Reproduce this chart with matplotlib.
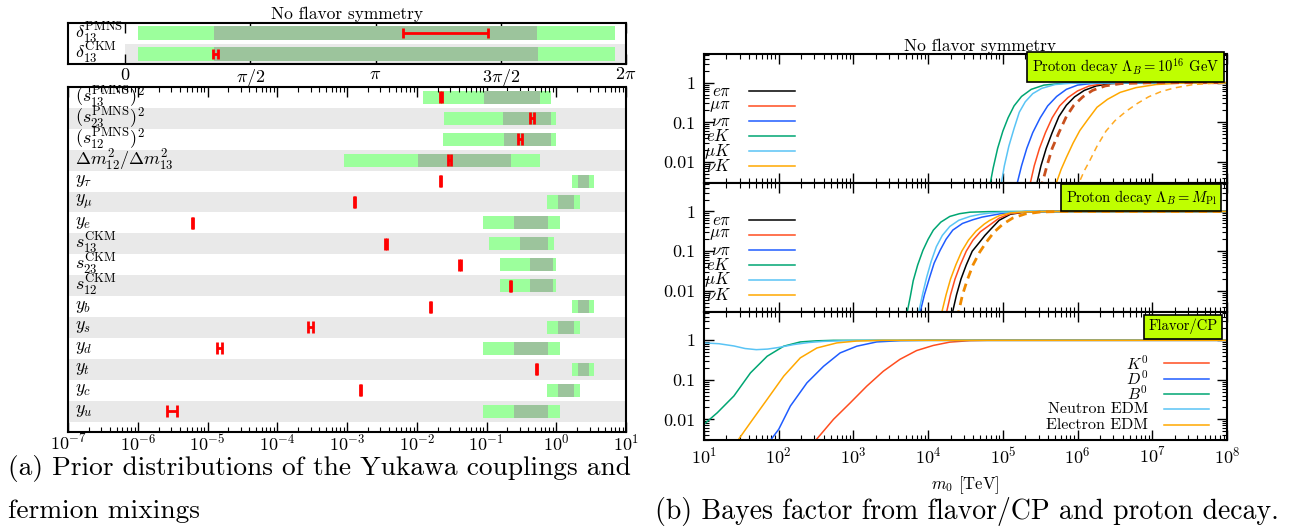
import numpy as np
import matplotlib
matplotlib.use('Agg')
import matplotlib.pyplot as plt
from matplotlib.ticker import LogLocator, NullFormatter
from matplotlib.lines import Line2D

plt.rcParams['font.family'] = 'cmr10'
plt.rcParams['mathtext.fontset'] = 'cm'
plt.rcParams['axes.formatter.use_mathtext'] = True
plt.rcParams['axes.unicode_minus'] = False

# ---------------- data: left panel (a) ----------------
DELTA_LABELS = [r'$\delta_{13}^{\rm PMNS}$', r'$\delta_{13}^{\rm CKM}$']
DELTA_LIGHT_LO = [0.157, 0.157]
DELTA_LIGHT_HI = [6.14, 6.14]
DELTA_DARK_LO = [1.11, 1.11]
DELTA_DARK_HI = [5.17, 5.18]
DELTA_MEAS = [4.00, 1.13]
DELTA_MEAS_LO = [3.49, 1.10]
DELTA_MEAS_HI = [4.55, 1.16]
DELTA_TICKS = [0, np.pi / 2, np.pi, 3 * np.pi / 2, 2 * np.pi]
DELTA_TICKLABELS = [r'$0$', r'$\pi/2$', r'$\pi$', r'$3\pi/2$', r'$2\pi$']

ROW_LABELS = [r'$(s_{13}^{\rm PMNS})^2$', r'$(s_{23}^{\rm PMNS})^2$', r'$(s_{12}^{\rm PMNS})^2$',
              r'$\Delta m_{12}^2/\Delta m_{13}^2$', r'$y_\tau$', r'$y_\mu$', r'$y_e$',
              r'$s_{13}^{\rm CKM}$', r'$s_{23}^{\rm CKM}$', r'$s_{12}^{\rm CKM}$',
              r'$y_b$', r'$y_s$', r'$y_d$', r'$y_t$', r'$y_c$', r'$y_u$']
LIGHT_LO = [0.0121, 0.0243, 0.0238, 0.00092, 1.66, 0.747, 0.0893, 0.109, 0.157, 0.155,
            1.66, 0.747, 0.0893, 1.66, 0.747, 0.0893]
LIGHT_HI = [0.853, 0.98, 0.98, 0.59, 3.47, 2.18, 1.12, 0.92, 0.995, 0.995,
            3.47, 2.18, 1.12, 3.47, 2.18, 1.12]
DARK_LO = [0.093, 0.173, 0.18, 0.0103, 2.04, 1.06, 0.25, 0.302, 0.415, 0.415,
           2.04, 1.06, 0.25, 2.04, 1.06, 0.25]
DARK_HI = [0.578, 0.834, 0.834, 0.226, 2.98, 1.77, 0.773, 0.773, 0.91, 0.91,
           2.95, 1.77, 0.773, 2.98, 1.77, 0.773]
MEAS = [0.0222, 0.445, 0.302, 0.0292, 0.0217, 0.00128, 6.05e-6, 0.00366, 0.0417, 0.221,
        0.0157, 3.0e-4, 1.48e-5, 0.519, 0.00156, 3.08e-6]
MEAS_LO = [0.0215, 0.415, 0.285, 0.0277, 0.0212, 0.00125, 5.9e-6, 0.00355, 0.0407, 0.216,
           0.0153, 2.75e-4, 1.36e-5, 0.508, 0.00152, 2.6e-6]
MEAS_HI = [0.0229, 0.475, 0.32, 0.0308, 0.0222, 0.00131, 6.2e-6, 0.00377, 0.0427, 0.226,
           0.0161, 3.27e-4, 1.61e-5, 0.53, 0.0016, 3.63e-6]

# ---------------- data: right panel (b), log10(m0 / TeV) and Bayes factor ----------------
# Panel 1: proton decay, Lambda_B = 1e16 GeV
P1_EK_LOGM = [4.80, 4.83, 4.87, 4.93, 5.0, 5.07, 5.15, 5.25, 5.38, 5.55, 5.8, 6.2, 8.0]
P1_EK_B = [0.002, 0.0028, 0.007, 0.022, 0.06, 0.13, 0.26, 0.45, 0.68, 0.87, 0.97, 1.0, 1.0]
P1_MUK_LOGM = [4.95, 4.978, 5.02, 5.08, 5.15, 5.22, 5.3, 5.4, 5.52, 5.7, 5.95, 6.4, 8.0]
P1_MUK_B = [0.002, 0.0028, 0.008, 0.025, 0.07, 0.18, 0.33, 0.53, 0.72, 0.9, 0.98, 1.0, 1.0]
P1_NUPI_LOGM = [5.16, 5.19, 5.25, 5.32, 5.4, 5.5, 5.6, 5.72, 5.85, 6.0, 6.2, 6.6, 8.0]
P1_NUPI_B = [0.002, 0.0028, 0.008, 0.022, 0.055, 0.13, 0.26, 0.45, 0.68, 0.87, 0.96, 1.0, 1.0]
P1_MUPI_LOGM = [5.34, 5.365, 5.42, 5.49, 5.57, 5.66, 5.76, 5.87, 6.0, 6.15, 6.35, 6.8, 8.0]
P1_MUPI_B = [0.002, 0.0028, 0.008, 0.022, 0.055, 0.13, 0.26, 0.42, 0.62, 0.82, 0.95, 1.0, 1.0]
P1_EPI_LOGM = [5.43, 5.453, 5.51, 5.58, 5.66, 5.75, 5.85, 5.96, 6.09, 6.25, 6.45, 6.9, 8.0]
P1_EPI_B = [0.002, 0.0028, 0.008, 0.022, 0.055, 0.14, 0.27, 0.44, 0.64, 0.83, 0.95, 1.0, 1.0]
P1_NUK_LOGM = [5.68, 5.711, 5.78, 5.85, 5.94, 6.03, 6.14, 6.26, 6.4, 6.57, 6.78, 7.05, 7.4, 8.0]
P1_NUK_B = [0.002, 0.0028, 0.0065, 0.013, 0.03, 0.062, 0.12, 0.24, 0.38, 0.57, 0.75, 0.9, 0.98, 1.0]
P1_DASH_RED_LOGM = [5.50, 5.525, 5.59, 5.66, 5.75, 5.85, 5.95, 6.07, 6.2, 6.37, 6.58, 7.0, 8.0]
P1_DASH_RED_B = [0.002, 0.0028, 0.008, 0.022, 0.055, 0.14, 0.27, 0.44, 0.64, 0.83, 0.95, 1.0, 1.0]
P1_DASH_ORANGE_LOGM = [5.98, 6.013, 6.09, 6.16, 6.26, 6.38, 6.5, 6.65, 6.8, 6.95, 7.12, 7.3, 7.55, 7.8, 8.0]
P1_DASH_ORANGE_B = [0.002, 0.0028, 0.006, 0.0105, 0.025, 0.06, 0.11, 0.19, 0.3, 0.44, 0.6, 0.74, 0.9, 0.96, 0.98]

# Panel 2: proton decay, Lambda_B = M_Pl
P2_EK_LOGM = [3.70, 3.725, 3.76, 3.8, 3.86, 3.93, 4.0, 4.07, 4.17, 4.29, 4.42, 4.56, 4.8, 5.2, 8.0]
P2_EK_B = [0.002, 0.0033, 0.007, 0.018, 0.045, 0.105, 0.2, 0.34, 0.54, 0.75, 0.88, 0.96, 0.99, 1.0, 1.0]
P2_MUK_LOGM = [3.86, 3.88, 3.93, 3.98, 4.04, 4.11, 4.19, 4.29, 4.41, 4.56, 4.7, 4.82, 5.0, 5.4, 8.0]
P2_MUK_B = [0.002, 0.0033, 0.009, 0.022, 0.055, 0.13, 0.25, 0.42, 0.6, 0.75, 0.85, 0.91, 0.96, 1.0, 1.0]
P2_NUPI_LOGM = [3.88, 3.9, 3.95, 4.02, 4.08, 4.16, 4.24, 4.33, 4.46, 4.6, 4.72, 4.82, 5.0, 5.3, 8.0]
P2_NUPI_B = [0.002, 0.0033, 0.008, 0.022, 0.05, 0.105, 0.2, 0.34, 0.5, 0.62, 0.72, 0.78, 0.9, 1.0, 1.0]
P2_NUK_LOGM = [4.17, 4.19, 4.24, 4.3, 4.37, 4.45, 4.54, 4.64, 4.75, 4.82, 4.95, 5.1, 5.3, 5.6, 8.0]
P2_NUK_B = [0.002, 0.0033, 0.008, 0.02, 0.045, 0.1, 0.19, 0.32, 0.48, 0.59, 0.78, 0.92, 0.98, 1.0, 1.0]
P2_MUPI_LOGM = [4.23, 4.253, 4.3, 4.36, 4.43, 4.51, 4.6, 4.7, 4.82, 4.95, 5.1, 5.3, 5.6, 8.0]
P2_MUPI_B = [0.002, 0.0033, 0.008, 0.02, 0.045, 0.1, 0.19, 0.31, 0.45, 0.68, 0.88, 0.97, 1.0, 1.0]
P2_EPI_LOGM = [4.31, 4.333, 4.38, 4.44, 4.51, 4.59, 4.69, 4.76, 4.82, 4.95, 5.1, 5.3, 5.6, 8.0]
P2_EPI_B = [0.002, 0.0033, 0.008, 0.02, 0.045, 0.1, 0.17, 0.25, 0.33, 0.6, 0.85, 0.97, 1.0, 1.0]
P2_DASH_LOGM = [4.39, 4.413, 4.46, 4.52, 4.6, 4.69, 4.78, 4.88, 5.0, 5.13, 5.3, 5.5, 5.8, 8.0]
P2_DASH_B = [0.002, 0.0033, 0.008, 0.018, 0.045, 0.095, 0.17, 0.3, 0.48, 0.68, 0.87, 0.97, 1.0, 1.0]

# Panel 3: flavor / CP
P3_K0_LOGM = [2.49, 2.511, 2.733, 2.956, 3.178, 3.4, 3.622, 3.845, 4.067, 4.289, 4.556, 4.8, 8.0]
P3_K0_B = [0.0028, 0.0032, 0.01, 0.026, 0.069, 0.165, 0.33, 0.55, 0.74, 0.9, 0.98, 1.0, 1.0]
P3_D0_LOGM = [1.878, 1.898, 2.0, 2.156, 2.378, 2.6, 2.822, 3.045, 3.311, 3.623, 4.0, 8.0]
P3_D0_B = [0.0028, 0.0031, 0.0056, 0.0217, 0.084, 0.22, 0.48, 0.71, 0.91, 0.98, 1.0, 1.0]
P3_B0_LOGM = [1.0, 1.178, 1.4, 1.622, 1.845, 2.067, 2.289, 2.5, 2.733, 8.0]
P3_B0_B = [0.0075, 0.0147, 0.039, 0.15, 0.395, 0.71, 0.91, 0.97, 1.0, 1.0]
P3_NEDM_LOGM = [1.0, 1.2, 1.4, 1.55, 1.7, 1.85, 2.0, 2.2, 2.4, 2.6, 2.9, 3.3, 8.0]
P3_NEDM_B = [0.86, 0.82, 0.72, 0.62, 0.58, 0.6, 0.66, 0.78, 0.88, 0.94, 0.98, 1.0, 1.0]
P3_EEDM_LOGM = [1.45, 1.467, 1.622, 1.845, 2.067, 2.289, 2.511, 2.778, 3.045, 3.4, 8.0]
P3_EEDM_B = [0.0028, 0.0032, 0.0083, 0.032, 0.124, 0.36, 0.64, 0.86, 0.96, 1.0, 1.0]

PROTON_LABELS = [r'$e\pi$', r'$\mu\pi$', r'$\nu\pi$', r'$eK$', r'$\mu K$', r'$\nu K$']
FLAVOR_LABELS = [r'$K^0$', r'$D^0$', r'$B^0$', 'Neutron EDM', 'Electron EDM']

# ---------------- styles ----------------
C_BLACK = '#000000'
C_RED = '#ff4d1f'
C_BLUE = '#1f5cff'
C_GREEN = '#00a673'
C_SKY = '#5ac4f5'
C_ORANGE = '#ffa800'
LIGHT_GREEN = '#9cff9c'
DARK_GREEN = '#9cc49c'
ROW_GRAY = '#e9e9e9'
BOX_GREEN = '#bfff00'

W, H = 1312, 531


def frame(l, t, r, b):
    return [l / W, 1 - b / H, (r - l) / W, (b - t) / H]


fig = plt.figure(figsize=(W / 100, H / 100), dpi=100)

# ---------- left top: delta_13 ----------
axd = fig.add_axes(frame(68, 23, 626, 64))
axd.set_xlim(-0.715, 2 * np.pi)
axd.set_ylim(1.5, -0.5)
rows_d = np.arange(len(DELTA_LABELS))
axd.barh(1, 2 * np.pi, left=0, height=1.0, color=ROW_GRAY, zorder=0)
axd.barh(rows_d, np.array(DELTA_LIGHT_HI) - np.array(DELTA_LIGHT_LO), left=DELTA_LIGHT_LO,
         height=0.66, color=LIGHT_GREEN, zorder=1)
axd.barh(rows_d, np.array(DELTA_DARK_HI) - np.array(DELTA_DARK_LO), left=DELTA_DARK_LO,
         height=0.66, color=DARK_GREEN, zorder=2)
dm = np.array(DELTA_MEAS)
axd.errorbar(dm, rows_d, xerr=[dm - np.array(DELTA_MEAS_LO), np.array(DELTA_MEAS_HI) - dm],
             fmt='none', ecolor='red', elinewidth=2, capsize=3.5, capthick=2, zorder=5)
for i, lab in enumerate(DELTA_LABELS):
    axd.text(0.013, i, lab, transform=axd.get_yaxis_transform(), fontsize=13,
             ha='left', va='center', zorder=6)
axd.set_xticks(DELTA_TICKS)
axd.set_xticklabels(DELTA_TICKLABELS, fontsize=13)
axd.set_yticks([])
axd.tick_params(axis='x', direction='in', top=True, length=7, width=1, pad=2)
axd.set_title('No flavor symmetry', fontsize=12.5, pad=3)
for s in axd.spines.values():
    s.set_linewidth(1.5)

# ---------- left main: yukawas & mixings ----------
axm = fig.add_axes(frame(68, 87, 626, 432))
axm.set_xscale('log')
axm.set_xlim(1e-7, 1e1)
axm.set_ylim(16.0, -0.5)
rows = np.arange(len(ROW_LABELS))
for i in rows:
    if i % 2 == 1:
        axm.axhspan(i - 0.5, i + 0.5, color=ROW_GRAY, zorder=0, lw=0)
llo, lhi = np.array(LIGHT_LO), np.array(LIGHT_HI)
dlo, dhi = np.array(DARK_LO), np.array(DARK_HI)
axm.barh(rows, lhi - llo, left=llo, height=0.63, color=LIGHT_GREEN, zorder=1)
axm.barh(rows, dhi - dlo, left=dlo, height=0.63, color=DARK_GREEN, zorder=2)
mm = np.array(MEAS)
axm.errorbar(mm, rows, xerr=[mm - np.array(MEAS_LO), np.array(MEAS_HI) - mm],
             fmt='none', ecolor='red', elinewidth=2, capsize=4.3, capthick=2, zorder=5)
for i, lab in enumerate(ROW_LABELS):
    axm.text(0.013, i, lab, transform=axm.get_yaxis_transform(), fontsize=13,
             ha='left', va='center', zorder=6)
axm.set_yticks([])
axm.xaxis.set_minor_locator(LogLocator(base=10, subs=np.arange(2, 10), numticks=100))
axm.xaxis.set_minor_formatter(NullFormatter())
axm.tick_params(axis='x', which='both', direction='in', top=True, pad=0.5, labelsize=13)
axm.tick_params(axis='x', which='major', length=7, width=1)
axm.tick_params(axis='x', which='minor', length=3.5, width=0.8)
for s in axm.spines.values():
    s.set_linewidth(1.5)

# ---------- right panels ----------
ax1 = fig.add_axes(frame(704, 54, 1227, 182.7))
ax2 = fig.add_axes(frame(704, 182.7, 1227, 311.7))
ax3 = fig.add_axes(frame(704, 311.7, 1227, 440))


def m(logm):
    return 10 ** np.array(logm)


LW = 1.1
# panel 1
h1 = []
h1.append(ax1.plot(m(P1_EPI_LOGM), P1_EPI_B, color=C_BLACK, lw=LW)[0])
h1.append(ax1.plot(m(P1_MUPI_LOGM), P1_MUPI_B, color=C_RED, lw=LW)[0])
h1.append(ax1.plot(m(P1_NUPI_LOGM), P1_NUPI_B, color=C_BLUE, lw=LW)[0])
h1.append(ax1.plot(m(P1_EK_LOGM), P1_EK_B, color=C_GREEN, lw=LW)[0])
h1.append(ax1.plot(m(P1_MUK_LOGM), P1_MUK_B, color=C_SKY, lw=LW)[0])
h1.append(ax1.plot(m(P1_NUK_LOGM), P1_NUK_B, color=C_ORANGE, lw=LW)[0])
ax1.plot(m(P1_DASH_RED_LOGM), P1_DASH_RED_B, color='#c8501e', lw=2.0, ls=(0, (3, 2)))
ax1.plot(m(P1_DASH_ORANGE_LOGM), P1_DASH_ORANGE_B, color='#ffaa22', lw=1.1, ls=(0, (4, 3)))

# panel 2
h2 = []
h2.append(ax2.plot(m(P2_EPI_LOGM), P2_EPI_B, color=C_BLACK, lw=LW)[0])
h2.append(ax2.plot(m(P2_MUPI_LOGM), P2_MUPI_B, color=C_RED, lw=LW)[0])
h2.append(ax2.plot(m(P2_NUPI_LOGM), P2_NUPI_B, color=C_BLUE, lw=LW)[0])
h2.append(ax2.plot(m(P2_EK_LOGM), P2_EK_B, color=C_GREEN, lw=LW)[0])
h2.append(ax2.plot(m(P2_MUK_LOGM), P2_MUK_B, color=C_SKY, lw=LW)[0])
h2.append(ax2.plot(m(P2_NUK_LOGM), P2_NUK_B, color=C_ORANGE, lw=LW)[0])
ax2.plot(m(P2_DASH_LOGM), P2_DASH_B, color='#f08a00', lw=2.0, ls=(0, (3, 2)))

# panel 3
h3 = []
h3.append(ax3.plot(m(P3_K0_LOGM), P3_K0_B, color=C_RED, lw=LW)[0])
h3.append(ax3.plot(m(P3_D0_LOGM), P3_D0_B, color=C_BLUE, lw=LW)[0])
h3.append(ax3.plot(m(P3_B0_LOGM), P3_B0_B, color=C_GREEN, lw=LW)[0])
h3.append(ax3.plot(m(P3_NEDM_LOGM), P3_NEDM_B, color=C_SKY, lw=LW)[0])
h3.append(ax3.plot(m(P3_EEDM_LOGM), P3_EEDM_B, color=C_ORANGE, lw=LW)[0])

for ax in (ax1, ax2, ax3):
    ax.set_xscale('log')
    ax.set_yscale('log')
    ax.set_xlim(10, 1e8)
    ax.set_ylim(0.003, 5.3)
    ax.set_yticks([0.01, 0.1, 1])
    ax.set_yticklabels(['0.01', '0.1', '1'])
    ax.xaxis.set_minor_locator(LogLocator(base=10, subs=np.arange(2, 10), numticks=100))
    ax.yaxis.set_minor_locator(LogLocator(base=10, subs=np.arange(2, 10), numticks=100))
    ax.xaxis.set_minor_formatter(NullFormatter())
    ax.yaxis.set_minor_formatter(NullFormatter())
    ax.tick_params(which='both', direction='in', top=True, right=True, labelsize=13)
    ax.tick_params(which='major', length=7, width=1, pad=6)
    ax.tick_params(which='minor', length=3.5, width=0.8)
    for s in ax.spines.values():
        s.set_linewidth(1.5)
ax1.tick_params(labelbottom=False)
ax2.tick_params(labelbottom=False)
ax3.tick_params(axis='x', pad=4)
ax3.set_xlabel(r'$m_0$ [TeV]', fontsize=12, labelpad=6)
ax1.set_title('No flavor symmetry', fontsize=12.5, x=0.528, pad=2)


# legend keys: label right-aligned, followed by a short sample of the curve's line style
def key(ax, handles, labels, ys, x_text, x0, x1, fontsize):
    for h, lab, y in zip(handles, labels, ys):
        ax.text(x_text, y, lab, transform=ax.transAxes, ha='right', va='center',
                fontsize=fontsize, zorder=8)
        ax.add_line(Line2D([x0, x1], [y, y], transform=ax.transAxes, color=h.get_color(),
                           lw=h.get_linewidth(), zorder=8))


KEY_Y_PROTON = [0.713, 0.596, 0.480, 0.362, 0.246, 0.130]
KEY_Y_FLAVOR = [0.600, 0.476, 0.359, 0.242, 0.117]
key(ax1, h1, PROTON_LABELS, KEY_Y_PROTON, 0.0516, 0.086, 0.174, 12)
key(ax2, h2, PROTON_LABELS, KEY_Y_PROTON, 0.0516, 0.086, 0.174, 12)
key(ax3, h3, FLAVOR_LABELS, KEY_Y_FLAVOR, 0.849, 0.8795, 0.9656, 11.5)

box = dict(boxstyle='square,pad=0.3', fc=BOX_GREEN, ec='black', lw=1.2)
ax1.text(0.806, 0.899, r'Proton decay $\Lambda_B = 10^{16}$ GeV', transform=ax1.transAxes,
         ha='center', va='center', fontsize=10.5, bbox=box, zorder=10)
ax2.text(0.836, 0.885, r'Proton decay $\Lambda_B = M_{\rm Pl}$', transform=ax2.transAxes,
         ha='center', va='center', fontsize=10.5, bbox=box, zorder=10)
ax3.text(0.9163, 0.883, 'Flavor/CP', transform=ax3.transAxes,
         ha='center', va='center', fontsize=10.5, bbox=box, zorder=10)

# captions
fig.text(8 / W, 1 - 469 / H, '(a) Prior distributions of the Yukawa couplings and',
         fontsize=19.7, ha='left', va='center')
fig.text(8 / W, 1 - 511 / H, 'fermion mixings', fontsize=19.7, ha='left', va='center')
fig.text(655 / W, 1 - 512 / H, '(b) Bayes factor from flavor/CP and proton decay.',
         fontsize=20, ha='left', va='center')

fig.savefig('out.png', dpi=100)
